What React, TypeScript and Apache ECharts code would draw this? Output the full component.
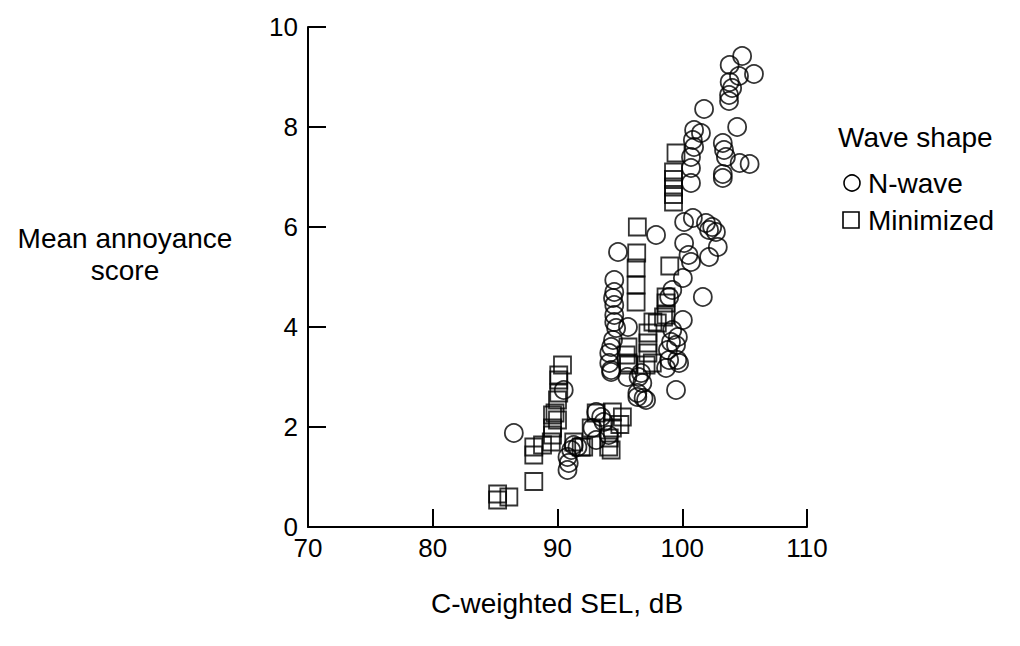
import React, { useEffect, useRef } from "react";
import * as echarts from "echarts";

const xTicks = [70, 80, 90, 100, 110];
const yTicks = [0, 2, 4, 6, 8, 10];

const nWave: [number, number][] = [
  [104.8, 9.42], [103.8, 9.24], [105.75, 9.06], [104.55, 9.02], [103.8, 8.9], [104.0, 8.78], [103.75, 8.64], [103.75, 8.52],
  [101.75, 8.36], [104.4, 8.0], [100.95, 7.94], [101.5, 7.88], [100.85, 7.74], [103.25, 7.68], [100.95, 7.6], [103.35, 7.54],
  [103.5, 7.4], [100.7, 7.4], [104.6, 7.28], [105.4, 7.26], [100.7, 7.18], [103.25, 7.06], [103.25, 6.98], [100.7, 6.88],
  [100.15, 6.1], [100.85, 6.18], [101.9, 6.08], [102.15, 5.94], [102.4, 6.0], [102.7, 5.9], [102.85, 5.6], [102.15, 5.4],
  [100.5, 5.44], [100.15, 5.68], [100.7, 5.3], [97.9, 5.84], [101.65, 4.6], [100.05, 4.98], [99.2, 4.74], [98.95, 4.6],
  [100.05, 4.14], [99.2, 3.94], [99.65, 3.8], [99.1, 3.7], [99.5, 3.64], [98.85, 3.54], [98.95, 3.34], [99.75, 3.28],
  [99.5, 2.74], [98.7, 3.18], [99.6, 3.34],
  [94.85, 5.5], [94.55, 4.94], [94.55, 4.7], [94.45, 4.58], [94.55, 4.44], [94.55, 4.24], [94.55, 4.1], [94.7, 3.98],
  [95.65, 4.0], [94.45, 3.74], [94.3, 3.6], [94.15, 3.48], [94.15, 3.28], [94.3, 3.14], [94.3, 3.1],
  [95.6, 3.0], [96.7, 3.08], [96.5, 3.0], [96.8, 2.88], [96.4, 2.68], [96.4, 2.6], [96.9, 2.58], [97.1, 2.54],
  [93.1, 2.3], [92.8, 1.98], [93.1, 1.74], [94.1, 1.84], [93.5, 2.2], [93.7, 2.1], [90.5, 2.74], [86.5, 1.88],
  [90.8, 1.4], [90.9, 1.28], [90.8, 1.14], [91.1, 1.54], [91.3, 1.64], [91.6, 1.6],
];

const minimized: [number, number][] = [
  [85.2, 0.66], [85.2, 0.54], [86.1, 0.6], [88.1, 0.91], [88.1, 1.6], [88.1, 1.44], [88.8, 1.64],
  [89.6, 1.98], [89.6, 1.84], [89.5, 1.7], [89.6, 2.24], [90.0, 2.14], [89.8, 2.28], [90.0, 2.54], [90.1, 2.68],
  [90.1, 2.94], [90.1, 3.04], [90.4, 3.24], [91.3, 1.7], [91.9, 1.6], [92.1, 1.6], [92.7, 1.98], [93.1, 2.28],
  [94.4, 2.3], [95.2, 2.2], [94.4, 1.98], [94.15, 1.78], [94.3, 1.54], [94.1, 1.6], [95.0, 2.05],
  [95.65, 3.6], [95.5, 3.44], [95.65, 3.28], [95.7, 3.24], [97.1, 3.24], [97.25, 3.48], [97.25, 3.68], [97.25, 3.88],
  [97.65, 4.1], [98.0, 4.08], [98.5, 4.2], [98.7, 4.24], [98.7, 4.48], [98.7, 4.6], [99.0, 5.22], [97.6, 3.28],
  [96.4, 6.0], [96.35, 5.48], [96.3, 5.18], [96.3, 4.84], [96.3, 4.5],
  [99.5, 7.48], [99.3, 7.1], [99.3, 6.95], [99.3, 6.8], [99.3, 6.65], [99.3, 6.5],
];

const seriesNames = ["N-wave", "Minimized"];
const legendTitle = "Wave shape";
const xTitle = "C-weighted SEL, dB";
const yTitle = "Mean annoyance\nscore";

const FONT = "'Liberation Sans', Arial, Helvetica, sans-serif";
const FS = 28;

export default function App() {
  const ref = useRef<HTMLDivElement>(null);
  useEffect(() => {
    if (!ref.current) return;
    const chart = echarts.init(ref.current, null, { renderer: "svg" });
    const axisCommon = {
      axisLine: { show: true, lineStyle: { color: "#000", width: 2 } },
      axisTick: { show: true, inside: true, length: 18, lineStyle: { color: "#000", width: 2 } },
      splitLine: { show: false },
      axisLabel: { color: "#000", fontSize: FS - 2, fontFamily: FONT },
    };
    chart.setOption({
      animation: false,
      backgroundColor: "#fff",
      grid: { left: 300, right: 205, top: 19, bottom: 111, containLabel: false },
      xAxis: {
        type: "value",
        min: xTicks[0],
        max: xTicks[xTicks.length - 1],
        interval: 10,
        ...axisCommon,
        axisLabel: { ...axisCommon.axisLabel, margin: 8 },
      },
      yAxis: {
        type: "value",
        min: yTicks[0],
        max: yTicks[yTicks.length - 1],
        interval: 2,
        ...axisCommon,
        axisLabel: { ...axisCommon.axisLabel, margin: 10 },
      },
      series: [
        {
          name: seriesNames[0],
          type: "scatter",
          symbol: "circle",
          symbolSize: 18,
          data: nWave,
          itemStyle: { color: "rgba(0,0,0,0)", borderColor: "#000", borderWidth: 1.8 },
        },
        {
          name: seriesNames[1],
          type: "scatter",
          symbol: "rect",
          symbolSize: 17,
          data: minimized,
          itemStyle: { color: "rgba(0,0,0,0)", borderColor: "#000", borderWidth: 1.8 },
        },
      ],
      graphic: [
        {
          type: "text",
          x: 117,
          y: 246,
          style: {
            text: yTitle,
            fill: "#000",
            font: `${FS}px ${FONT}`,
            textAlign: "center",
            textVerticalAlign: "middle",
            lineHeight: 32,
          },
        },
        {
          type: "text",
          x: 549,
          y: 595,
          style: { text: xTitle, fill: "#000", font: `${FS}px ${FONT}`, textAlign: "center", textVerticalAlign: "middle" },
        },
        {
          type: "text",
          x: 830,
          y: 129,
          style: { text: legendTitle, fill: "#000", font: `${FS}px ${FONT}`, textAlign: "left", textVerticalAlign: "middle" },
        },
        {
          type: "circle",
          shape: { cx: 844, cy: 175, r: 8 },
          style: { fill: "none", stroke: "#000", lineWidth: 1.6 },
        },
        {
          type: "text",
          x: 860,
          y: 175,
          style: { text: seriesNames[0], fill: "#000", font: `${FS}px ${FONT}`, textAlign: "left", textVerticalAlign: "middle" },
        },
        {
          type: "rect",
          shape: { x: 835, y: 204, width: 16, height: 16 },
          style: { fill: "none", stroke: "#000", lineWidth: 1.6 },
        },
        {
          type: "text",
          x: 860,
          y: 212,
          style: { text: seriesNames[1], fill: "#000", font: `${FS}px ${FONT}`, textAlign: "left", textVerticalAlign: "middle" },
        },
      ],
    });
    return () => chart.dispose();
  }, []);
  return <div ref={ref} style={{ width: 1004, height: 630 }} />;
}
